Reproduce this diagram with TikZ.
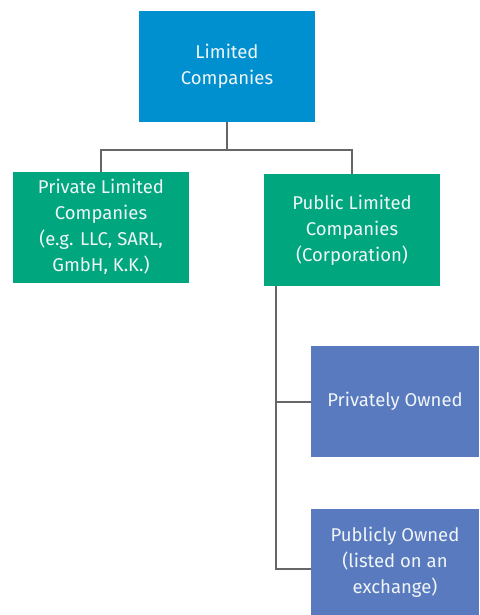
\documentclass[tikz,border=0pt]{standalone}
\usepackage{fontspec}
\setmainfont{Fira Sans}
\definecolor{cblue}{HTML}{0090D0}
\definecolor{cgreen}{HTML}{00A67E}
\definecolor{cpurple}{HTML}{5A7ABF}
\definecolor{cline}{HTML}{666666}
\definecolor{ctext}{HTML}{F0F6F8}
\begin{document}
\begin{tikzpicture}[x=1pt,y=-1pt,
  box/.style={draw=none,inner sep=0pt,outer sep=0pt,text=ctext,align=center,
    font=\fontsize{18.5}{26}\selectfont},
  conn/.style={draw=cline,line width=2pt}]
\useasboundingbox (0,0) rectangle (479,615);
\node[box,fill=cblue,minimum width=176pt,minimum height=111pt] (top) at (227,66.5) {Limited\\Companies};
\node[box,fill=cgreen,minimum width=176pt,minimum height=111pt] (priv) at (101,227) {Private Limited\\Companies\\(e.g. LLC, SARL,\\GmbH, K.K.)};
\node[box,fill=cgreen,minimum width=176pt,minimum height=112pt] (pub) at (352,230) {Public Limited\\Companies\\(Corporation)};
\node[box,fill=cpurple,minimum width=168pt,minimum height=111pt] (po) at (395,401.5) {Privately Owned};
\node[box,fill=cpurple,minimum width=168pt,minimum height=106pt] (lo) at (395,562) {Publicly Owned\\(listed on an\\exchange)};
\coordinate (j) at (227,149.5);
\draw[conn] (top.south) -- (j);
\draw[conn] (priv.north) |- (j) -| (pub.north);
\coordinate (pv) at (276,286);
\coordinate (pb) at (276,569);
\draw[conn] (pv) -- (pb) -- (lo.west |- pb);
\draw[conn] (pv |- po.west) -- (po.west);
\end{tikzpicture}
\end{document}
